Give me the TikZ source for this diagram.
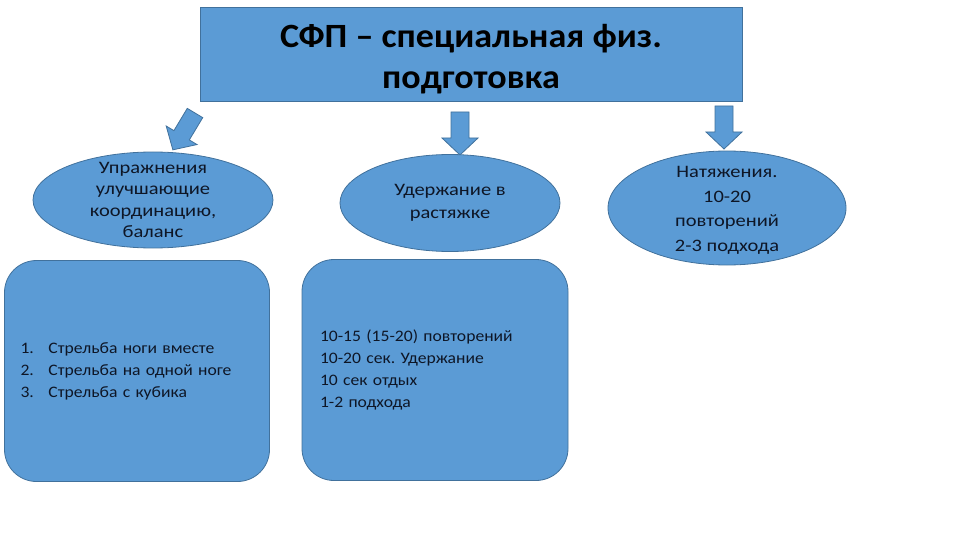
\documentclass[tikz,border=0pt]{standalone}
\usepackage{fontspec}
\setmainfont{Carlito}
\newfontfamily\titlefont[FakeStretch=1.06]{Carlito}
\newfontfamily\ovalfont[FakeStretch=1.17]{Carlito}
\newfontfamily\cardfont[FakeStretch=1.1]{Carlito}
\usetikzlibrary{shapes.geometric}
\definecolor{boxblue}{HTML}{5B9BD5}
\definecolor{boxline}{HTML}{41719C}
\definecolor{textdark}{RGB}{14,22,38}
\begin{document}
\begin{tikzpicture}[x=1pt, y=-1pt,
    box/.style={fill=boxblue, draw=boxline, line width=0.8pt},
    oval/.style={box, ellipse, inner sep=0pt},
    ovaltext/.style={align=center, text=textdark, font=\ovalfont\fontsize{17.5}{21.5}\selectfont},
    card/.style={box, rounded corners=32pt, inner xsep=16pt, inner ysep=0pt, align=left, text=textdark,
                 font=\cardfont\fontsize{16}{22}\selectfont},
    downarrow/.pic={\draw[box] (-9,0) -- (9,0) -- (9,26) -- (18,26) -- (0,43) -- (-18,26) -- (-9,26) -- cycle;}]
  \useasboundingbox (0,0) rectangle (960,540);
  % title
  \node[box, minimum width=542pt, minimum height=94pt, inner sep=0pt,
        label={[align=center, yshift=-5pt, font=\titlefont\bfseries\fontsize{34}{41}\selectfont]center:СФП – специальная физ.\\подготовка}]
        (title) at (471,54) {};
  % block arrows
  \pic[rotate=-31] at (195,113) {downarrow};
  \pic at (460,112) {downarrow};
  \pic at (724,106) {downarrow};
  % ovals
  \node[oval, minimum width=240pt, minimum height=96pt,
        label={[ovaltext]center:Упражнения\\улучшающие\\координацию,\\баланс}] (balance) at (153,200) {};
  \node[oval, minimum width=220pt, minimum height=97pt,
        label={[ovaltext, font=\ovalfont\fontsize{17.5}{23}\selectfont]center:Удержание в\\растяжке}] (stretch) at (450,203) {};
  \node[oval, minimum width=238pt, minimum height=114pt,
        label={[ovaltext, yshift=-2.5pt, font=\ovalfont\fontsize{17.5}{24.5}\selectfont]center:Натяжения.\\10-20\\повторений\\2-3 подхода}] (pull) at (727,208) {};
  % cards
  \node[card, minimum width=265pt, minimum height=221pt, text width=233pt] (shots) at (137,371)
        {\makebox[28pt][l]{1.}Стрельба ноги вместе\\
         \makebox[28pt][l]{2.}Стрельба на одной ноге\\
         \makebox[28pt][l]{3.}Стрельба с кубика};
  \node[card, minimum width=266pt, minimum height=221pt, text width=230pt, inner xsep=18pt] (hold) at (435,370)
        {\frenchspacing 10-15 (15-20) повторений\\10-20 сек. Удержание\\10 сек отдых\\1-2 подхода};
\end{tikzpicture}
\end{document}
